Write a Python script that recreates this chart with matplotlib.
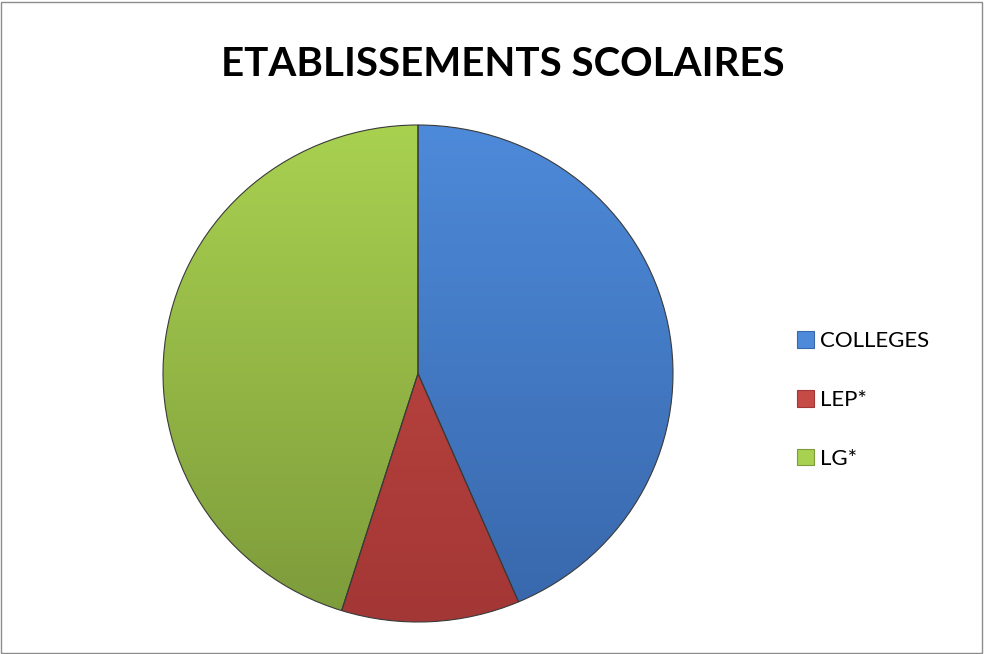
"""Pie chart: établissements scolaires."""

import matplotlib

matplotlib.use("Agg")
import matplotlib.pyplot as plt
import numpy as np
from matplotlib.colors import LinearSegmentedColormap
from matplotlib.patches import Rectangle

categories = ["COLLEGES", "LEP*", "LG*"]
counts = [27, 7, 28]

# light (top) / dark (bottom) shade per slice
TOP_COLORS = ["#4d8ad9", "#c64a45", "#a9d150"]
BOTTOM_COLORS = ["#3867ab", "#a33735", "#7d9b3b"]

plt.rcParams["font.family"] = ["Lato", "DejaVu Sans"]

W, H = 984, 654
fig = plt.figure(figsize=(W / 100, H / 100), dpi=100)
fig.patches.append(
    Rectangle((0.001, 0.0015), 0.997, 0.996, transform=fig.transFigure,
              fill=False, edgecolor="#8c8c8c", linewidth=1.0)
)

# pie bounding box in pixels (top-left origin): x 163..673, y 125..622
left, right, top, bottom = 163, 673, 125, 622
ax = fig.add_axes([left / W, 1 - bottom / H, (right - left) / W, (bottom - top) / H])
wedges, _ = ax.pie(
    counts,
    startangle=90,
    counterclock=False,
    colors=TOP_COLORS,
    radius=1.0,
    wedgeprops={"linewidth": 0.8, "edgecolor": "#3a3a3a"},
)

gradient = np.linspace(0, 1, 256).reshape(-1, 1)
for wedge, top_c, bottom_c in zip(wedges, TOP_COLORS, BOTTOM_COLORS):
    cmap = LinearSegmentedColormap.from_list("shade", [top_c, bottom_c])
    img = ax.imshow(gradient, cmap=cmap, extent=(-1, 1, -1, 1), origin="upper",
                    aspect="auto", zorder=wedge.get_zorder() + 0.1)
    img.set_clip_path(wedge)
    wedge.set_zorder(wedge.get_zorder() + 0.2)
    wedge.set_facecolor("none")

ax.set_xlim(-1.0, 1.0)
ax.set_ylim(-1.0, 1.0)
ax.set_aspect("auto")
ax.axis("off")

fig.text(503 / W, 1 - 65 / H, "ETABLISSEMENTS SCOLAIRES",
         ha="center", va="center", fontsize=29, fontweight="bold")

handles = [Rectangle((0, 0), 1, 1, facecolor=c, edgecolor=b, linewidth=0.8)
           for c, b in zip(TOP_COLORS, BOTTOM_COLORS)]
fig.legend(handles, categories, loc="center left",
           bbox_to_anchor=(797 / W, 1 - 400 / H), frameon=False,
           fontsize=16, labelspacing=1.75, handlelength=0.77, handleheight=0.77,
           handletextpad=0.27, borderaxespad=0, borderpad=0)

fig.savefig("out.png", dpi=100)
